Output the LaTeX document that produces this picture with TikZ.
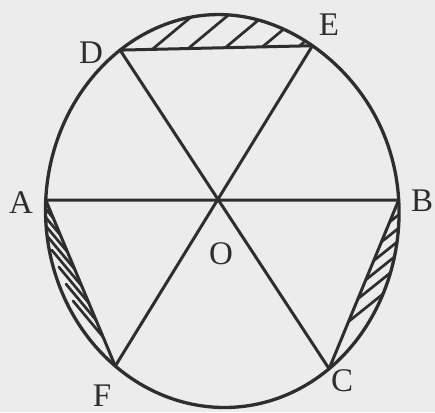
\documentclass[tikz,border=0pt]{standalone}
\usepackage{fontspec}
\setmainfont{Liberation Serif}
\usetikzlibrary{calc}
\definecolor{ink}{HTML}{2E2E2E}
\definecolor{paper}{HTML}{ECECEC}
\begin{document}
\begin{tikzpicture}[x=1pt,y=-1pt,line join=round,line cap=round,
  declare function={
    fe(\t)=1-0.03*exp(max(-10,-((\t+55)/35)*((\t+55)/35)));
    ex(\t)=224.5+(177-2*cos(\t))*cos(\t)*fe(\t);
    ey(\t)=210+197.5*sin(\t)*fe(\t);},
  rim/.style={draw=ink,line width=3.3pt},
  seg/.style={draw=ink,line width=3pt},
  hatch/.style={draw=ink,line width=2.7pt},
  lbl/.style={text=ink,font=\fontsize{33}{33}\selectfont,anchor=base,inner sep=0pt}]
\fill[paper] (0,0) rectangle (435,412);
\useasboundingbox (0,0) rectangle (435,412);
% points on the rim
\coordinate (A) at ({ex(-177.1)},{ey(-177.1)});
\coordinate (B) at ({ex(-2.9)},{ey(-2.9)});
\coordinate (D) at ({ex(-125.9)},{ey(-125.9)});
\coordinate (E) at ({ex(-59)},{ey(-59)});
\coordinate (F) at ({ex(127.8)},{ey(127.8)});
\coordinate (C) at ({ex(53.5)},{ey(53.5)});
\coordinate (O) at (intersection of D--C and E--F);
% hatching
\begin{scope}
  \clip plot[domain=-180:180,samples=241,variable=\t] ({ex(\t)},{ey(\t)}) -- cycle;
  % top segment
  \begin{scope}
    \clip (D) -- (E) -- ($(D)!2!(E)$) -- (450,-20) -- (-20,-20) -- ($(E)!2!(D)$) -- cycle;
    \foreach \p in {0.167,0.354,0.547,0.74,0.932}
      \draw[hatch] ($(D)!\p!(E)+(-48,40)$) -- ($(D)!\p!(E)+(48,-40)$);
  \end{scope}
  % left segment
  \begin{scope}
    \clip (A) -- (F) -- ($(A)!2!(F)$) -- (-30,540) -- (-30,30) -- ($(F)!2!(A)$) -- cycle;
    \foreach \p in {0.108,0.211,0.313,0.416,0.518,0.620,0.723,0.825}
      \draw[hatch] ($(A)!\p!(F)+(-30,-36)$) -- ($(A)!\p!(F)+(30,36)$);
  \end{scope}
  % right segment
  \begin{scope}
    \clip (B) -- (C) -- ($(B)!2!(C)$) -- (470,540) -- (470,30) -- ($(C)!2!(B)$) -- cycle;
    \foreach \p in {0.13,0.248,0.36,0.473,0.585,0.72}
      \draw[hatch] ($(B)!\p!(C)+(-40,32)$) -- ($(B)!\p!(C)+(40,-32)$);
  \end{scope}
\end{scope}
% rim
\draw[rim] plot[domain=-180:180,samples=241,variable=\t] ({ex(\t)},{ey(\t)}) -- cycle;
% chords and diameters
\draw[seg] (A) -- (B);
\draw[seg] (D) -- (C);
\draw[seg] (E) -- (F);
\draw[seg] (D) -- (E);
\draw[seg] (B) -- (C);
\draw[seg] (A) -- (F);
% labels
\node[lbl] (lA) at (21,213) {A};
\node[lbl] (lB) at (422,211) {B};
\node[lbl] (lD) at (91,63) {D};
\node[lbl] (lE) at (329,35) {E};
\node[lbl] (lO) at (221,264) {O};
\node[lbl] (lF) at (102,406) {F};
\node[lbl] (lC) at (342,391) {C};
\end{tikzpicture}
\end{document}
